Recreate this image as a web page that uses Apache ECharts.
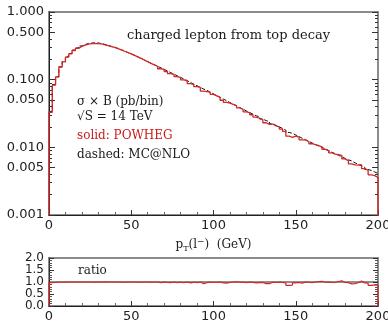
<!DOCTYPE html>
<html>
<head>
<meta charset="utf-8">
<script src="https://cdn.jsdelivr.net/npm/echarts@6/dist/echarts.min.js"></script>
<style>html,body{margin:0;padding:0;background:#fff;}#c{width:388px;height:324px;}</style>
</head>
<body>
<div id="c"></div>
<script>
// ---- data (2 GeV bins from 0 to 200 GeV) ----
const binWidth = 2;
const powheg = [
0.033, 0.083, 0.11, 0.154, 0.183, 0.216, 0.241, 0.27, 0.29, 0.31,
0.325, 0.335, 0.34, 0.342, 0.341, 0.337, 0.328, 0.318, 0.308, 0.299,
0.288, 0.276, 0.263, 0.252, 0.240, 0.229, 0.217, 0.206, 0.195, 0.185,
0.1735, 0.166, 0.158, 0.145, 0.142, 0.132, 0.123, 0.120, 0.111, 0.107,
0.0990, 0.0964, 0.0875, 0.0851, 0.0789, 0.0769, 0.0676, 0.0667, 0.0652, 0.0605,
0.0576, 0.0549, 0.0496, 0.0463, 0.0450, 0.0433, 0.0413, 0.0382, 0.0365, 0.0335,
0.0326, 0.0303, 0.0280, 0.0269, 0.0257, 0.0231, 0.0219, 0.0221, 0.0207, 0.0200,
0.0186, 0.0172, 0.0146, 0.0140, 0.0146, 0.0141, 0.0129, 0.0129, 0.0121, 0.0113,
0.0110, 0.0106, 0.0102, 0.00931, 0.00893, 0.00830, 0.00796, 0.00778, 0.00760, 0.00674,
0.00633, 0.00571, 0.00550, 0.00544, 0.00555, 0.00486, 0.00457, 0.00392, 0.00381, 0.00358
];
const mcatnlo = [
0.034, 0.085, 0.11, 0.155, 0.185, 0.218, 0.244, 0.273, 0.294, 0.315,
0.331, 0.342, 0.348, 0.350, 0.348, 0.342, 0.332, 0.321, 0.310, 0.300,
0.2884, 0.2755, 0.2633, 0.2516, 0.2404, 0.2288, 0.2170, 0.2057, 0.1950, 0.1849,
0.1753, 0.1662, 0.1576, 0.1495, 0.1418, 0.1343, 0.1271, 0.1204, 0.1140, 0.1079,
0.1021, 0.0964, 0.0911, 0.0860, 0.0813, 0.0769, 0.0727, 0.0695, 0.0652, 0.0617,
0.0582, 0.0549, 0.0517, 0.0487, 0.0459, 0.0433, 0.0409, 0.0386, 0.0365, 0.0345,
0.0326, 0.0309, 0.0292, 0.0283, 0.0262, 0.0248, 0.0240, 0.0223, 0.0211, 0.0200,
0.0190, 0.0179, 0.0166, 0.0161, 0.0152, 0.0144, 0.0136, 0.0129, 0.0122, 0.0116,
0.0110, 0.0104, 0.00991, 0.00955, 0.00893, 0.00847, 0.00804, 0.00763, 0.00724, 0.00688,
0.00653, 0.00630, 0.00591, 0.00561, 0.00534, 0.00506, 0.00470, 0.00456, 0.00433, 0.00411
];
const ratio = [
0.97, 0.98, 1.0, 1.0, 0.99, 1.0, 1.0, 1.0, 1.0, 1.0,
1.0, 1.0, 1.0, 0.99, 1.0, 1.0, 1.01, 1.0, 1.0, 1.0,
1.0, 1.0, 0.99, 1.0, 1.0, 1.0, 1.0, 0.99, 1.0, 1.0,
0.99, 1.0, 1.0, 0.97, 1.0, 0.98, 0.97, 1.0, 0.97, 0.99,
0.97, 1.0, 0.96, 0.99, 0.97, 1.0, 0.93, 0.97, 1.0, 0.98,
0.99, 1.0, 0.96, 0.95, 0.98, 1.0, 1.01, 0.99, 1.0, 0.97,
1.0, 0.98, 0.96, 0.97, 0.98, 0.93, 0.93, 0.99, 0.98, 1.0,
0.98, 0.96, 0.86, 0.87, 0.96, 0.98, 0.95, 1.0, 0.99, 0.97,
1.0, 1.02, 1.03, 0.99, 1.0, 0.98, 0.99, 1.02, 1.05, 0.98,
0.97, 0.92, 0.93, 0.97, 1.04, 0.96, 0.95, 0.86, 0.88, 0.87
];
const xMin = 0, xMax = 200, xInterval = 50;
const yMin = 0.001, yMax = 1;
const yLabelValues = [0.001, 0.005, 0.01, 0.05, 0.1, 0.5, 1];
const yMinorValues = [0.002,0.003,0.004,0.006,0.007,0.008,0.009,
                      0.02,0.03,0.04,0.06,0.07,0.08,0.09,
                      0.2,0.3,0.4,0.6,0.7,0.8,0.9];
const ratioMin = 0, ratioMax = 2, ratioInterval = 0.5;
const ratioReference = 1;

const texts = {
  title: 'charged lepton from top decay',
  line1: 'σ × B (pb/bin)',
  line2: '√S = 14 TeV',
  line3: 'solid: POWHEG',
  line4: 'dashed: MC@NLO',
  ratio: 'ratio'
};

// ---- build histogram step data ----
function stepData(vals, floor) {
  const d = [];
  if (floor !== undefined) d.push([0, floor]);
  vals.forEach((v, i) => d.push([i * binWidth, v]));
  d.push([vals.length * binWidth, vals[vals.length - 1]]);
  if (floor !== undefined) d.push([vals.length * binWidth, floor]);
  return d;
}

const RED = '#d42626';
const labelFont = { fontFamily: 'DejaVu Sans', fontSize: 13, color: '#222' };
const serif = 'DejaVu Serif';

function xAxisCfg(gi, withName) {
  const a = {
    gridIndex: gi, type: 'value', min: xMin, max: xMax, interval: xInterval,
    axisLine: { show: true, onZero: false, lineStyle: { color: '#222', width: 1 } },
    axisTick: { show: true, inside: true, length: 5, lineStyle: { color: '#333' } },
    minorTick: { show: true, splitNumber: 5, length: 3, lineStyle: { color: '#666' } },
    splitLine: { show: false },
    axisLabel: Object.assign({ margin: 4 }, labelFont)
  };
  if (withName) {
    a.name = '{a|p}{s|T}{a|(l}{u|−}{a|)  (GeV)}';
    a.nameLocation = 'middle';
    a.nameGap = 22;
    a.nameTextStyle = {
      rich: {
        a: { fontFamily: serif, fontSize: 12, color: '#222' },
        s: { fontFamily: serif, fontSize: 8, color: '#222', padding: [7, 0, 0, 0] },
        u: { fontFamily: serif, fontSize: 9, color: '#222', padding: [0, 0, 7, 0] }
      }
    };
  }
  return a;
}

function logAxis(pos, labels, tickVals, len) {
  return {
    gridIndex: 0, type: 'log', logBase: 10, min: yMin, max: yMax, position: pos,
    axisLine: { show: pos === 'left', onZero: false, lineStyle: { color: '#222', width: 1 } },
    axisTick: { show: true, inside: true, length: len, customValues: tickVals, lineStyle: { color: '#333' } },
    splitLine: { show: false },
    minorTick: { show: false },
    axisLabel: labels ? Object.assign({ margin: 5, customValues: yLabelValues,
      formatter: v => Number(v).toFixed(3) }, labelFont) : { show: false }
  };
}

function ratioAxis(pos) {
  return {
    gridIndex: 1, type: 'value', min: ratioMin, max: ratioMax, interval: ratioInterval, position: pos,
    axisLine: { show: pos === 'left', onZero: false, lineStyle: { color: '#222', width: 1 } },
    axisTick: { show: true, inside: true, length: 5, lineStyle: { color: '#333' } },
    minorTick: { show: true, splitNumber: 5, length: 3, lineStyle: { color: '#555' } },
    splitLine: { show: false },
    axisLabel: pos === 'left' ? { margin: 5, fontFamily: 'DejaVu Sans', fontSize: 12, color: '#222',
      lineHeight: 11, formatter: v => Number(v).toFixed(1) } : { show: false }
  };
}

const chart = echarts.init(document.getElementById('c'), null, { renderer: 'canvas' });
chart.setOption({
  animation: false,
  backgroundColor: '#fff',
  grid: [
    { left: 49, top: 12, width: 329, height: 203, show: true, borderColor: '#8c8c8c', borderWidth: 2,
      containLabel: false, outerBoundsMode: 'none' },
    { left: 49, top: 258, width: 329, height: 48, show: true, borderColor: '#8c8c8c', borderWidth: 2,
      containLabel: false, outerBoundsMode: 'none' }
  ],
  xAxis: [xAxisCfg(0, true), xAxisCfg(1, false)],
  yAxis: [
    logAxis('left', true, yLabelValues, 6),
    logAxis('left', false, yMinorValues, 3),
    logAxis('right', false, yLabelValues, 6),
    logAxis('right', false, yMinorValues, 3),
    ratioAxis('left'),
    ratioAxis('right')
  ],
  series: [
    { type: 'line', name: 'MC@NLO', xAxisIndex: 0, yAxisIndex: 0, step: 'end', symbol: 'none',
      data: stepData(mcatnlo), lineStyle: { color: '#111', width: 1, type: [4, 2] }, z: 2 },
    { type: 'line', name: 'POWHEG', xAxisIndex: 0, yAxisIndex: 0, step: 'end', symbol: 'none',
      data: stepData(powheg, yMin), lineStyle: { color: RED, width: 1.3 }, z: 3 },
    { type: 'line', name: 'ref', xAxisIndex: 1, yAxisIndex: 4, symbol: 'none',
      data: [[xMin, ratioReference], [xMax, ratioReference]], lineStyle: { color: '#222', width: 1.2 }, z: 2 },
    { type: 'line', name: 'ratio', xAxisIndex: 1, yAxisIndex: 4, step: 'end', symbol: 'none',
      data: stepData(ratio, ratioMin), lineStyle: { color: RED, width: 1.2 }, z: 3 }
  ],
  graphic: [
    { type: 'text', left: 127, top: 29, style: { text: texts.title, font: '13px "DejaVu Serif"', fill: '#1a1a1a' } },
    { type: 'text', left: 77, top: 96, style: { text: texts.line1, font: '12px "DejaVu Serif"', fill: '#1a1a1a' } },
    { type: 'text', left: 77, top: 111, style: { text: texts.line2, font: '12px "DejaVu Serif"', fill: '#1a1a1a' } },
    { type: 'text', left: 77, top: 130, style: { text: texts.line3, font: '12px "DejaVu Serif"', fill: '#cc1a1a' } },
    { type: 'text', left: 77, top: 149, style: { text: texts.line4, font: '12px "DejaVu Serif"', fill: '#1a1a1a' } },
    { type: 'text', left: 78, top: 265, style: { text: texts.ratio, font: '12px "DejaVu Serif"', fill: '#1a1a1a' } }
  ]
});
</script>
</body>
</html>
